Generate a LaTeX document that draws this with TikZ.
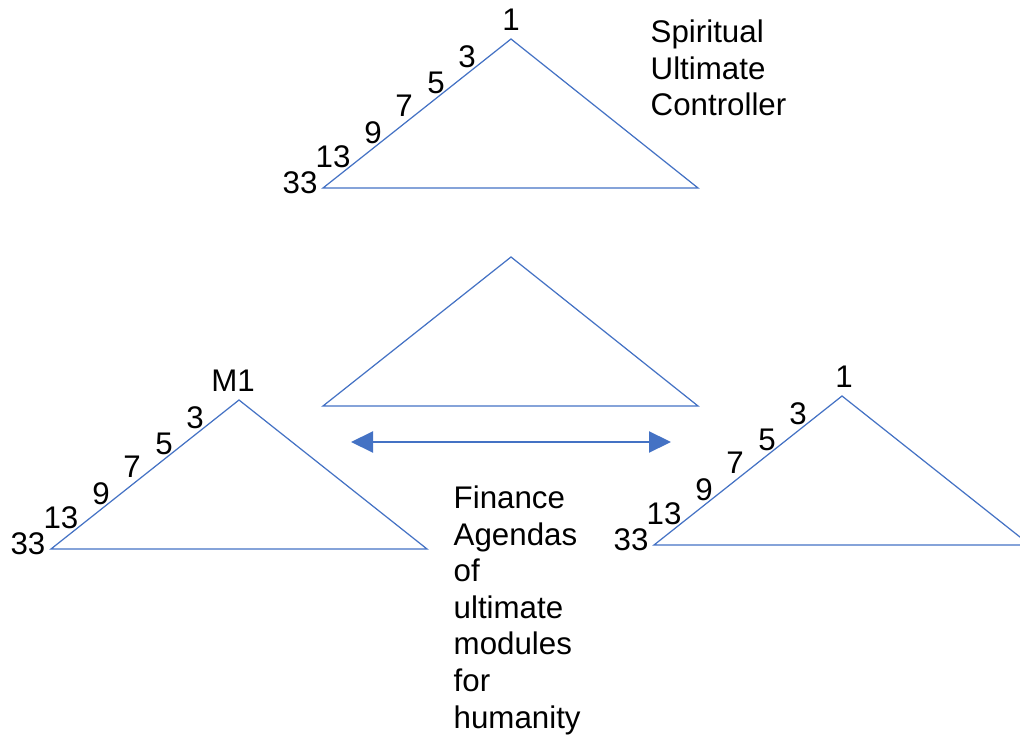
\documentclass[tikz,border=0pt]{standalone}
\usepackage{fontspec}
\setmainfont{Liberation Sans}
\usepackage{xcolor}
\usetikzlibrary{arrows.meta}
\definecolor{lineblue}{HTML}{4472C4}

\begin{document}
\begin{tikzpicture}[
  tri/.style={draw=lineblue, line width=0.35pt, line join=miter},
  num/.style={inner sep=0pt, font=\fontsize{8.9}{10.4}\selectfont},
  note/.style={inner sep=0pt, align=left, anchor=base west, font=\fontsize{8.9}{10.4}\selectfont}
]
  \useasboundingbox (0,0) rectangle (10.20,7.39);
  \clip (0,0) rectangle (10.20,7.39);

  % Top triangle
  \coordinate (topapex) at (5.11,7.00);
  \coordinate (topleft) at (3.23,5.51);
  \coordinate (topright) at (6.98,5.51);
  \draw[tri] (topapex) -- (topright) -- (topleft) -- cycle;
  \node[num] (top-1) at ([shift={(0,0.19)}]topapex) {1};
  \foreach \lbl/\dx/\dy in {3/-0.44/-0.18, 5/-0.75/-0.44, 7/-1.07/-0.67, 9/-1.38/-0.94, 13/-1.78/-1.18, 33/-2.11/-1.44}
    \node[num] (top-\lbl) at ([shift={(\dx,\dy)}]topapex) {\lbl};
  % base anchor sits on the last line
  \node[note] (spirit) at (6.50,6.23) {Spiritual\\Ultimate\\Controller};

  % Middle triangle
  \coordinate (midapex) at (5.11,4.82);
  \coordinate (midleft) at (3.23,3.33);
  \coordinate (midright) at (6.98,3.33);
  \draw[tri] (midapex) -- (midright) -- (midleft) -- cycle;

  % Left triangle
  \coordinate (lftapex) at (2.39,3.39);
  \coordinate (lftleft) at (0.51,1.90);
  \coordinate (lftright) at (4.27,1.90);
  \draw[tri] (lftapex) -- (lftright) -- (lftleft) -- cycle;
  \node[num] (lft-M1) at ([shift={(-0.06,0.19)}]lftapex) {M1};
  \foreach \lbl/\dx/\dy in {3/-0.44/-0.18, 5/-0.75/-0.44, 7/-1.07/-0.67, 9/-1.38/-0.94, 13/-1.78/-1.18, 33/-2.11/-1.44}
    \node[num] (lft-\lbl) at ([shift={(\dx,\dy)}]lftapex) {\lbl};

  % Right triangle
  \coordinate (rgtapex) at (8.42,3.43);
  \coordinate (rgtleft) at (6.54,1.94);
  \coordinate (rgtright) at (10.30,1.94);
  \draw[tri] (rgtapex) -- (rgtright) -- (rgtleft) -- cycle;
  \node[num] (rgt-1) at ([shift={(0.02,0.19)}]rgtapex) {1};
  \foreach \lbl/\dx/\dy in {3/-0.44/-0.18, 5/-0.75/-0.44, 7/-1.07/-0.67, 9/-1.38/-0.94, 13/-1.78/-1.18, 33/-2.11/-1.44}
    \node[num] (rgt-\lbl) at ([shift={(\dx,\dy)}]rgtapex) {\lbl};

  % Arrow
  \coordinate (arrowl) at (3.51,2.97);
  \coordinate (arrowr) at (6.71,2.97);
  \draw[lineblue, line width=0.6pt, {Triangle[length=0.22cm,width=0.21cm]}-{Triangle[length=0.22cm,width=0.21cm]}] (arrowl) -- (arrowr);

  \node[note] (finance) at (4.53,0.11) {Finance\\Agendas\\of\\ultimate\\modules\\for\\humanity};

\end{tikzpicture}
\end{document}
